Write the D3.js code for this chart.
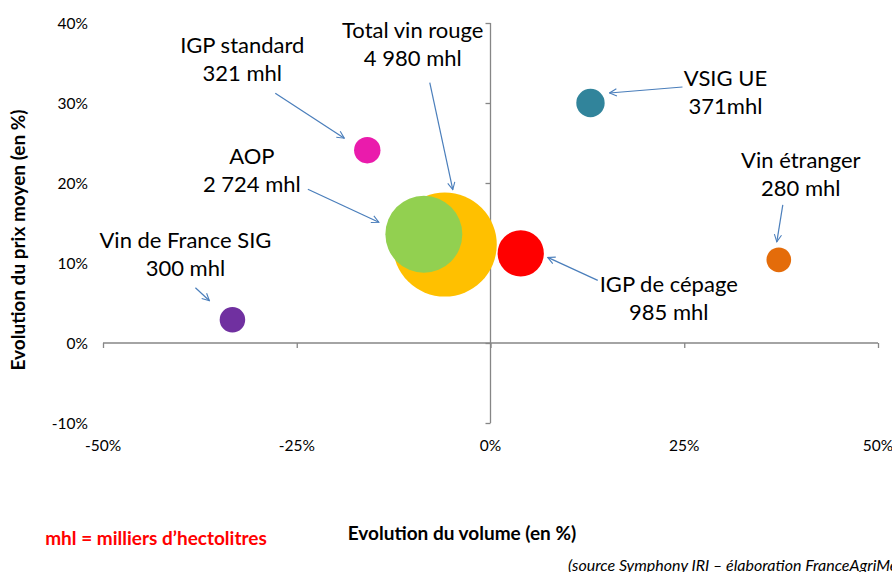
<!DOCTYPE html>
<html>
<head>
<meta charset="utf-8">
<script src="https://cdn.jsdelivr.net/npm/d3@7"></script>
<style>
  body { margin: 0; background: #fff; }
  svg { display: block; font-family: Lato, "Open Sans", sans-serif; }
</style>
</head>
<body>
<div id="chart"></div>
<script>
// data
const categories = ["Vin de France SIG", "IGP standard", "Total vin rouge", "AOP", "IGP de cépage", "VSIG UE", "Vin étranger"];
const volumeChange = [-33.3, -15.9, -5.9, -8.6, 3.9, 12.9, 37.2];   // % x
const priceChange = [2.9, 24.1, 12.3, 13.6, 11.2, 30.0, 10.4];      // % y
const volumes = [300, 321, 4980, 2724, 985, 371, 280];              // mhl, bubble size
const volumeLabels = ["300 mhl", "321 mhl", "4 980 mhl", "2 724 mhl", "985 mhl", "371mhl", "280 mhl"];
const colors = ["#7030a0", "#ea1bac", "#ffc000", "#92d050", "#ff0000", "#31849b", "#e46c0a"];
const xTicks = [-50, -25, 0, 25, 50];
const yTicks = [-10, 0, 10, 20, 30, 40];

// label + arrow placement, offsets in px from each bubble centre
const labelLayout = [
    { dx: -47,  dy: -80,  a: [-37, -32, -23, -19] },
    { dx: -125, dy: -105, a: [-92, -57, -23, -12] },
    { dx: -32,  dy: -215, a: [-15, -162, 8, -55] },
    { dx: -172, dy: -78,  a: [-116, -45, -45, -12] },
    { dx: 148,  dy: 31,   a: [77, 27, 27, 4] },
    { dx: 135,  dy: -25,  a: [92, -16, 19, -10] },
    { dx: 22,   dy: -100, a: [4, -55, -2, -18] }
];

const W = 892, H = 572;
const svg = d3.select("#chart").append("svg")
    .attr("width", W)
    .attr("height", H);

const x = d3.scaleLinear().domain([-50, 50]).range([103, 878]);
const y = d3.scaleLinear().domain([-10, 40]).range([423, 23]);
const r = d3.scaleSqrt().domain([0, 4980]).range([0, 52]);

const axisColor = "#868686";

// horizontal axis through 0%
const xAxis = svg.append("g")
    .attr("transform", `translate(0,${y(0)})`)
    .call(d3.axisBottom(x).tickValues(xTicks).tickSize(5).tickFormat(""));
xAxis.select(".domain").attr("stroke", axisColor).attr("stroke-width", 1.3).attr("d", `M${x(-50)},0H${x(50)}`);
xAxis.selectAll(".tick line").attr("stroke", axisColor).attr("stroke-width", 1.3);

// vertical axis through 0%
const yAxis = svg.append("g")
    .attr("transform", `translate(${x(0)},0)`)
    .call(d3.axisLeft(y).tickValues(yTicks).tickSize(5).tickFormat(""));
yAxis.select(".domain").attr("stroke", axisColor).attr("stroke-width", 1.3).attr("d", `M0,${y(-10)}V${y(40)}`);
yAxis.selectAll(".tick line").attr("stroke", axisColor).attr("stroke-width", 1.3);

// tick labels sit on the chart edges, like Excel's "low" label position
svg.append("g").selectAll("text")
    .data(yTicks)
    .enter()
    .append("text")
    .attr("x", 88)
    .attr("y", d => y(d) + 5.5)
    .attr("text-anchor", "end")
    .attr("font-size", 15.5)
    .attr("fill", "#000")
    .text(d => d + "%");

svg.append("g").selectAll("text")
    .data(xTicks)
    .enter()
    .append("text")
    .attr("x", d => x(d))
    .attr("y", 451)
    .attr("text-anchor", "middle")
    .attr("font-size", 15.5)
    .attr("fill", "#000")
    .text(d => d + "%");

// arrow marker
svg.append("defs").append("marker")
    .attr("id", "arrow")
    .attr("viewBox", "0 0 10 10")
    .attr("refX", 9)
    .attr("refY", 5)
    .attr("markerWidth", 9)
    .attr("markerHeight", 9)
    .attr("markerUnits", "userSpaceOnUse")
    .attr("orient", "auto")
    .append("path")
    .attr("d", "M1,1 L9,5 L1,9")
    .attr("fill", "none")
    .attr("stroke", "#4a7ebb")
    .attr("stroke-width", 1.2);

const points = categories.map((c, i) => ({
    name: c,
    vx: volumeChange[i],
    py: priceChange[i],
    vol: volumes[i],
    lab: volumeLabels[i],
    color: colors[i],
    layout: labelLayout[i]
}));

// bubbles
svg.append("g").selectAll("circle")
    .data(points)
    .enter()
    .append("circle")
    .attr("cx", d => x(d.vx))
    .attr("cy", d => y(d.py))
    .attr("r", d => r(d.vol))
    .attr("fill", d => d.color);

// arrows
svg.append("g").selectAll("line")
    .data(points)
    .enter()
    .append("line")
    .attr("x1", d => x(d.vx) + d.layout.a[0])
    .attr("y1", d => y(d.py) + d.layout.a[1])
    .attr("x2", d => x(d.vx) + d.layout.a[2])
    .attr("y2", d => y(d.py) + d.layout.a[3])
    .attr("stroke", "#4a7ebb")
    .attr("stroke-width", 1.2)
    .attr("marker-end", "url(#arrow)");

// labels (two lines)
const labels = svg.append("g").selectAll("text")
    .data(points)
    .enter()
    .append("text")
    .attr("text-anchor", "middle")
    .attr("font-size", 22)
    .attr("fill", "#000");
labels.append("tspan")
    .attr("x", d => x(d.vx) + d.layout.dx)
    .attr("y", d => y(d.py) + d.layout.dy + 8)
    .text(d => d.name);
labels.append("tspan")
    .attr("x", d => x(d.vx) + d.layout.dx)
    .attr("y", d => y(d.py) + d.layout.dy + 36)
    .text(d => d.lab);

// axis titles
svg.append("text")
    .attr("transform", "translate(25,240) rotate(-90)")
    .attr("text-anchor", "middle")
    .attr("font-size", 19)
    .attr("font-weight", "bold")
    .text("Evolution du prix moyen (en %)");

svg.append("text")
    .attr("x", 462)
    .attr("y", 540)
    .attr("text-anchor", "middle")
    .attr("font-size", 19)
    .attr("font-weight", "bold")
    .text("Evolution du volume (en %)");

svg.append("text")
    .attr("x", 156)
    .attr("y", 545)
    .attr("text-anchor", "middle")
    .attr("font-size", 19)
    .attr("font-weight", "bold")
    .attr("fill", "#ff0000")
    .text("mhl = milliers d’hectolitres");

svg.append("text")
    .attr("x", 568)
    .attr("y", 571)
    .attr("font-size", 16)
    .attr("font-style", "italic")
    .text("(source Symphony IRI – élaboration FranceAgriMer)");
</script>
</body>
</html>
